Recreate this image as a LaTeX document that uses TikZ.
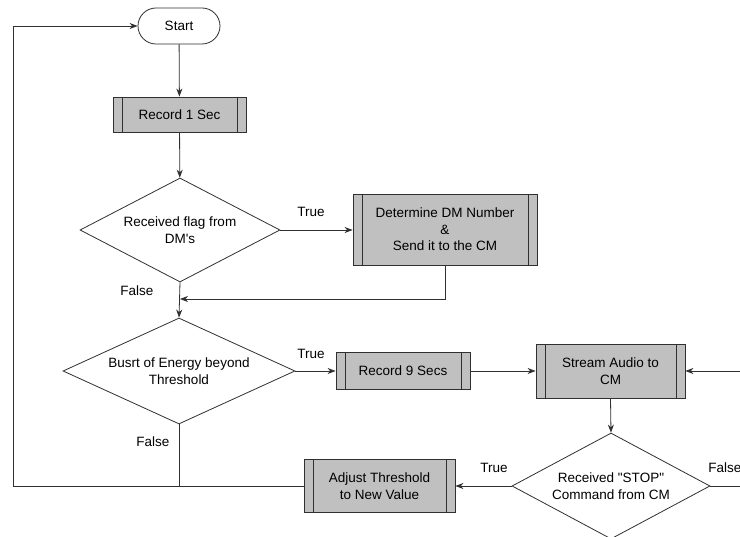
\documentclass[tikz,border=0pt]{standalone}
\usepackage{fontspec}
\setmainfont{Liberation Sans}[Ligatures=TeXOff]
\usetikzlibrary{shapes.geometric,shapes.misc,arrows.meta}
\definecolor{boxgray}{HTML}{C0C0C0}
\definecolor{edge}{HTML}{303030}
\begin{document}
\begin{tikzpicture}[x=1pt,y=-1pt,
  font=\fontsize{13.5}{16.5}\selectfont,
  line width=0.8pt,
  ln/.style={draw=edge},
  arr/.style={draw=edge,-{Stealth[length=8pt,width=6pt,inset=2.5pt]}},
  terminal/.style={rounded rectangle,draw=edge,fill=white,minimum width=82pt,minimum height=36pt,inner sep=0pt},
  proc/.style={rectangle,draw=edge,fill=boxgray,inner sep=0pt,align=center,
    path picture={
      \draw[edge,line width=0.8pt] ([xshift=9pt]path picture bounding box.north west) -- ([xshift=9pt]path picture bounding box.south west);
      \draw[edge,line width=0.8pt] ([xshift=-9pt]path picture bounding box.north east) -- ([xshift=-9pt]path picture bounding box.south east);
    }},
  decision/.style={diamond,draw=edge,fill=white,inner sep=0pt},
  lbl/.style={inner sep=0pt}]
\useasboundingbox (0,0) rectangle (740,537);
\clip (0,0) rectangle (740,537);
\fill[white] (0,0) rectangle (740,537);

% steps of the flow
\node[terminal] (start) at (179,26) {Start};
\node[proc,minimum width=133pt,minimum height=35pt] (rec1) at (179.5,114.5) {Record 1 Sec};
\node[decision,minimum width=200pt,minimum height=104pt,
  label={[align=center,inner sep=0pt]center:Received flag from\\DM's}] (d1) at (180,230) {};
\node[proc,minimum width=184pt,minimum height=71pt] (dm) at (445,229.5) {Determine DM Number\\\&\\Send it to the CM};
\node[decision,minimum width=232pt,minimum height=106pt,
  label={[align=center,inner sep=0pt]center:Busrt of Energy beyond\\Threshold}] (d2) at (179,371) {};
\node[proc,minimum width=134pt,minimum height=37pt] (rec9) at (403,371) {Record 9 Secs};
\node[proc,minimum width=149pt,minimum height=54pt] (stream) at (610.5,371) {Stream Audio to\\CM};
\node[decision,minimum width=198pt,minimum height=106pt,
  label={[align=center,inner sep=0pt]center:Received "STOP"\\Command from CM}] (d3) at (611,486) {};
\node[proc,minimum width=151pt,minimum height=53pt] (adj) at (379.5,486) {Adjust Threshold\\to New Value};

% branch labels
\node[lbl] (t1) at (311,212) {True};
\node[lbl] (f1) at (137,291) {False};
\node[lbl] (t2) at (311,354) {True};
\node[lbl] (f2) at (153,442) {False};
\node[lbl] (t3) at (494,468) {True};
\node[lbl,anchor=west] (f3) at (708,468) {False};

% junctions and loose ends
\coordinate (j1) at (180,299);
\coordinate (loopB) at (13.5,486);
\coordinate (loopT) at (13.5,26);
\coordinate (rin) at (745,371);
\coordinate (rout) at (745,486);

% connectors
\draw[arr] (start) -- (rec1);
\draw[arr] (rec1) -- (d1);
\draw[arr] (d1.east) -- (d1.east -| dm.west);
\draw[arr] (dm.south) |- (j1);
\draw[arr] (d1.south) -- (d2.north);
\draw[arr] (d2.east) -- (d2.east -| rec9.west);
\draw[arr] (rec9.east) -- (stream.west);
\draw[arr] (rin) -- (stream.east);
\draw[arr] (stream.south) -- (d3.north);
\draw[arr] (d3.west) -- (adj.east);
\draw[ln] (d3.east) -- (rout);
\draw[ln] (d2.south) -- (d2.south |- adj.west);
\draw[arr] (adj.west) -- (loopB) -- (loopT) -- (start.west);
\end{tikzpicture}
\end{document}
